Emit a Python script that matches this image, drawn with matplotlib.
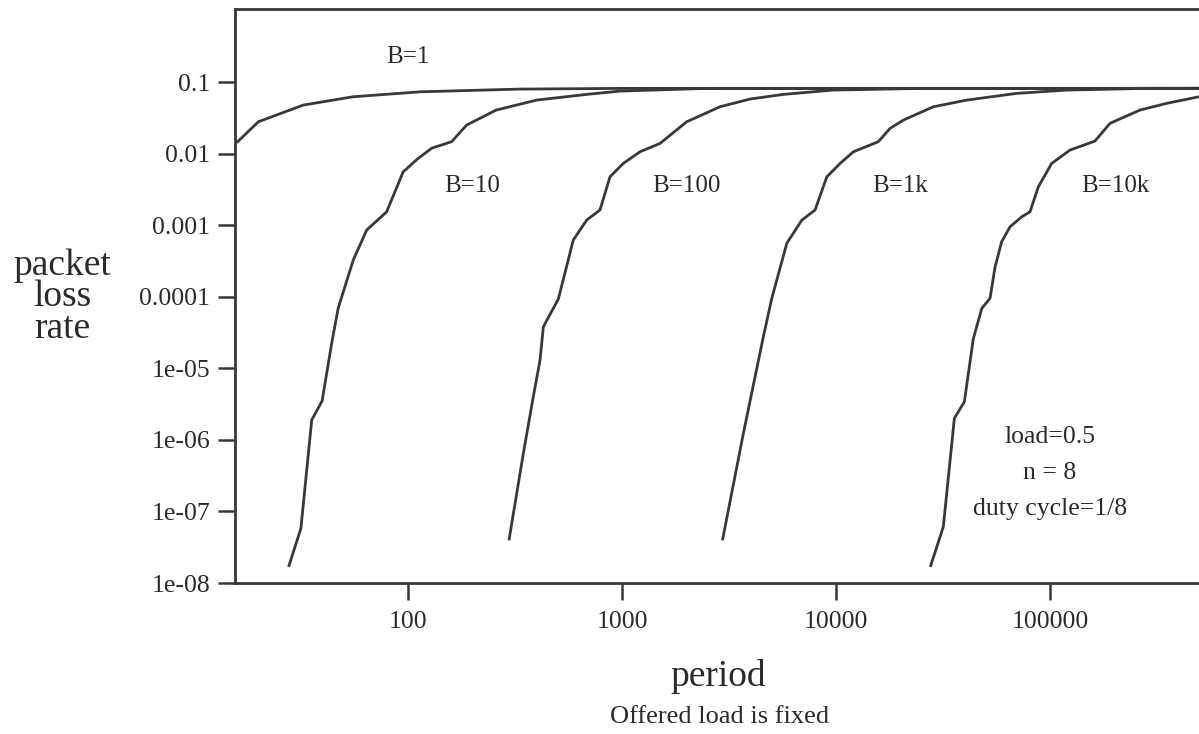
import matplotlib
matplotlib.use("Agg")
import matplotlib.pyplot as plt
from matplotlib.ticker import FixedLocator, FixedFormatter, NullLocator

plt.rcParams['font.family'] = ['Liberation Serif', 'DejaVu Serif']

# valeurs (periode, taux de perte)
per_b1 = [16, 20, 32.4, 55.3, 114, 333, 980, 3000, 500000]
loss_b1 = [0.0147, 0.0279, 0.0477, 0.0623, 0.0731, 0.0798, 0.0816, 0.0818, 0.0818]

per_b10 = [27.8, 31.6, 35.5, 39.7, 44, 47.2, 55.5, 64.1, 79.5, 95, 111.7, 129, 160,
           188, 258, 399, 684, 977, 2310, 500000]
loss_b10 = [1.75e-8, 5.8e-8, 1.9e-6, 3.5e-6, 2.23e-5, 6.95e-5, 3.26e-4, 8.55e-4,
            1.54e-3, 5.58e-3, 8.6e-3, 0.0119, 0.0147, 0.0251, 0.0406, 0.056, 0.0673,
            0.0748, 0.081, 0.0818]

per_b100 = [297, 346, 385, 414, 429, 504, 592, 684, 789, 879, 1014, 1213, 1506, 2006,
            2871, 3963, 5675, 9680, 22000, 500000]
loss_b100 = [4.12e-8, 6.5e-7, 4.0e-6, 1.3e-5, 3.8e-5, 9.3e-5, 6.2e-4, 1.18e-3, 1.63e-3,
             4.75e-3, 7.3e-3, 0.0106, 0.0139, 0.0279, 0.0452, 0.0579, 0.0673, 0.0773,
             0.081, 0.0818]

per_b1k = [2955, 3690, 4575, 5010, 5890, 6925, 7980, 9060, 10450, 12050, 15770, 17870,
           20630, 28500, 40830, 69800, 119700, 250000, 500000]
loss_b1k = [4.12e-8, 1.23e-6, 2.76e-5, 9.5e-5, 5.6e-4, 1.18e-3, 1.63e-3, 4.75e-3,
            7.3e-3, 0.0106, 0.0147, 0.0225, 0.0294, 0.0452, 0.056, 0.0695, 0.0773,
            0.081, 0.0818]

per_b10k = [27700, 31720, 35720, 39770, 43810, 48000, 52430, 55340, 59450, 65030, 73770,
            80640, 88160, 101800, 123900, 162200, 190600, 263000, 350600, 496600]
loss_b10k = [1.75e-8, 6.1e-8, 2.0e-6, 3.4e-6, 2.6e-5, 6.9e-5, 9.5e-5, 2.6e-4, 5.9e-4,
             9.5e-4, 1.31e-3, 1.54e-3, 3.44e-3, 7.3e-3, 0.0112, 0.015, 0.0265, 0.0406,
             0.0504, 0.0624]

series = [(per_b1, loss_b1), (per_b10, loss_b10), (per_b100, loss_b100),
          (per_b1k, loss_b1k), (per_b10k, loss_b10k)]

# etiquettes des courbes (position en coordonnees donnees)
labels_B = ["B=1", "B=10", "B=100", "B=1k", "B=10k"]
labels_x = [99.5, 199, 1990, 19900, 201000]
labels_y = [0.223, 0.0035, 0.0035, 0.0035, 0.0035]

xticks = [100, 1000, 10000, 100000]
xtick_labels = ["100", "1000", "10000", "100000"]
yticks = [1e-1, 1e-2, 1e-3, 1e-4, 1e-5, 1e-6, 1e-7, 1e-8]
ytick_labels = ["0.1", "0.01", "0.001", "0.0001", "1e-05", "1e-06", "1e-07", "1e-08"]

fig = plt.figure(figsize=(11.99, 7.34), dpi=100)
ax = fig.add_axes([235/1199., 1-583/734., (1199-235)/1199., (583-9)/734.])

col = "#383838"
for per, loss in series:
    ax.plot(per, loss, color=col, linewidth=2.0)

ax.set_xscale("log")
ax.set_yscale("log")
ax.set_xlim(15.55, 496600)
ax.set_ylim(1e-8, 1.05)

ax.xaxis.set_major_locator(FixedLocator(xticks))
ax.xaxis.set_major_formatter(FixedFormatter(xtick_labels))
ax.xaxis.set_minor_locator(NullLocator())
ax.yaxis.set_major_locator(FixedLocator(yticks))
ax.yaxis.set_major_formatter(FixedFormatter(ytick_labels))
ax.yaxis.set_minor_locator(NullLocator())

ax.tick_params(axis="both", direction="out", length=12, width=1.8, color=col,
               labelsize=18.5, labelcolor="#2a2a2a")
ax.tick_params(axis="x", pad=8)
ax.tick_params(axis="y", pad=6)

for s in ["left", "bottom", "top"]:
    ax.spines[s].set_linewidth(2.0)
    ax.spines[s].set_color(col)
ax.spines["right"].set_visible(False)

for lab, lx, ly in zip(labels_B, labels_x, labels_y):
    ax.text(lx, ly, lab, fontsize=18, ha="center", va="center", color="#2a2a2a")

ax.text(0.8454, 0.1916, "load=0.5\nn = 8\nduty cycle=1/8", transform=ax.transAxes,
        fontsize=18.5, ha="center", va="center", linespacing=1.8, color="#2a2a2a")

fig.text(62/1199., 1-297/734., "packet\nloss\nrate", fontsize=27, ha="center",
         va="center", linespacing=0.88, color="#2a2a2a")
fig.text(718/1199., 1-677/734., "period", fontsize=27, ha="center", va="center",
         color="#2a2a2a")
fig.text(720/1199., 1-717/734., "Offered load is fixed", fontsize=19, ha="center",
         va="center", color="#2a2a2a")

fig.savefig("out.png", dpi=100)
